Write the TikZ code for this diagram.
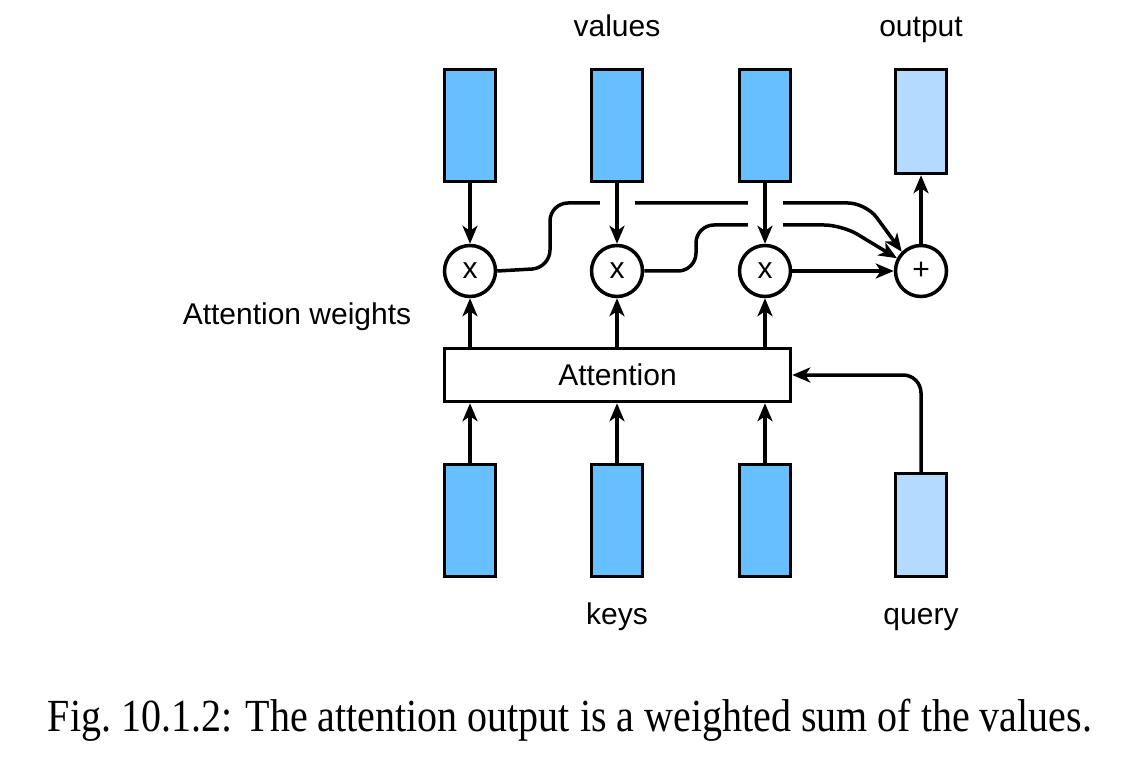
\documentclass[tikz,border=0pt]{standalone}
\usepackage{fontspec}
\setmainfont{Liberation Serif}
\setsansfont{Liberation Sans}
\usetikzlibrary{arrows.meta}
\definecolor{keyblue}{HTML}{66BFFF}
\definecolor{qblue}{HTML}{B3DAFF}

\begin{document}
\begin{tikzpicture}[x=0.5pt,y=-0.5pt,
  line width=1.75pt,
  every node/.style={font=\sffamily\fontsize{15}{18}\selectfont},
  vec/.style={draw, fill=keyblue, minimum width=25.5pt, minimum height=56pt, inner sep=0pt},
  lvec/.style={vec, fill=qblue},
  op/.style={draw, circle, fill=white, minimum size=25.5pt, inner sep=0pt},
  flow/.style={-{Stealth[length=9pt,width=7.5pt,inset=2.5pt]}},
  hop/.style={white, line width=17.5pt},
  label/.style={anchor=base},
]
\useasboundingbox[fill=white] (0,0) rectangle (1128,764);

% values (top row) and output
\node[vec] (v1) at (470,125.5) {};
\node[vec] (v2) at (617,125.5) {};
\node[vec] (v3) at (765,125.5) {};
\node[lvec, minimum height=52pt] (out) at (921,121.5) {};

% weighting and summation
\node[op] (m1) at (470,271) {x};
\node[op] (m2) at (617,271) {x};
\node[op] (m3) at (765,271) {x};
\node[op] (sum) at (921,271) {+};

% attention block
\node[draw, fill=white, minimum width=173pt, minimum height=26.5pt, inner sep=0pt] (att) at (617.5,375) {Attention};

% keys (bottom row) and query
\node[vec] (k1) at (470,520.5) {};
\node[vec] (k2) at (617,520.5) {};
\node[vec] (k3) at (765,520.5) {};
\node[lvec, minimum height=51.5pt] (q) at (921,525) {};

% labels
\node[label] (lv) at (617,37) {values};
\node[label] (lo) at (921,37) {output};
\node[label] (lw) at (297,325) {Attention weights};
\node[label] (lk) at (617,624) {keys};
\node[label] (lq) at (921,624) {query};

% weighted values routed to the sum
\draw[flow, rounded corners=9pt] (m1.east) -- (550,268) -- (550,203) -- (866,203) -- (sum.135);
\draw[flow, rounded corners=9pt] (m2.east) -- (696,271) -- (696,225) -- (842,225) -- (sum.152);
\draw[flow] (m3.east) -- (sum.west);

% line hops where the value arrows cross
\draw[hop, shorten <=6pt, shorten >=6pt] (v2.south) -- (m2.north);
\draw[hop, shorten <=6pt, shorten >=6pt] (v3.south) -- (m3.north);

% value arrows
\draw[flow] (v1.south) -- (m1.north);
\draw[flow] (v2.south) -- (m2.north);
\draw[flow] (v3.south) -- (m3.north);
\draw[flow] (sum.north) -- (out.south);

% attention weights
\draw[flow] (att.north -| m1) -- (m1.south);
\draw[flow] (att.north -| m2) -- (m2.south);
\draw[flow] (att.north -| m3) -- (m3.south);

% keys and query into attention
\draw[flow] (k1.north) -- (k1.north |- att.south);
\draw[flow] (k2.north) -- (k2.north |- att.south);
\draw[flow] (k3.north) -- (k3.north |- att.south);
\draw[flow, rounded corners=9pt] (q.north) -- (q.north |- att.east) -- (att.east);

% caption
\node[anchor=base] (cap) at (570,731) {\scalebox{1}[1.15]{\resizebox{522pt}{!}{\rmfamily Fig.~10.1.2: The attention output is a weighted sum of the values.}}};
\end{tikzpicture}
\end{document}
